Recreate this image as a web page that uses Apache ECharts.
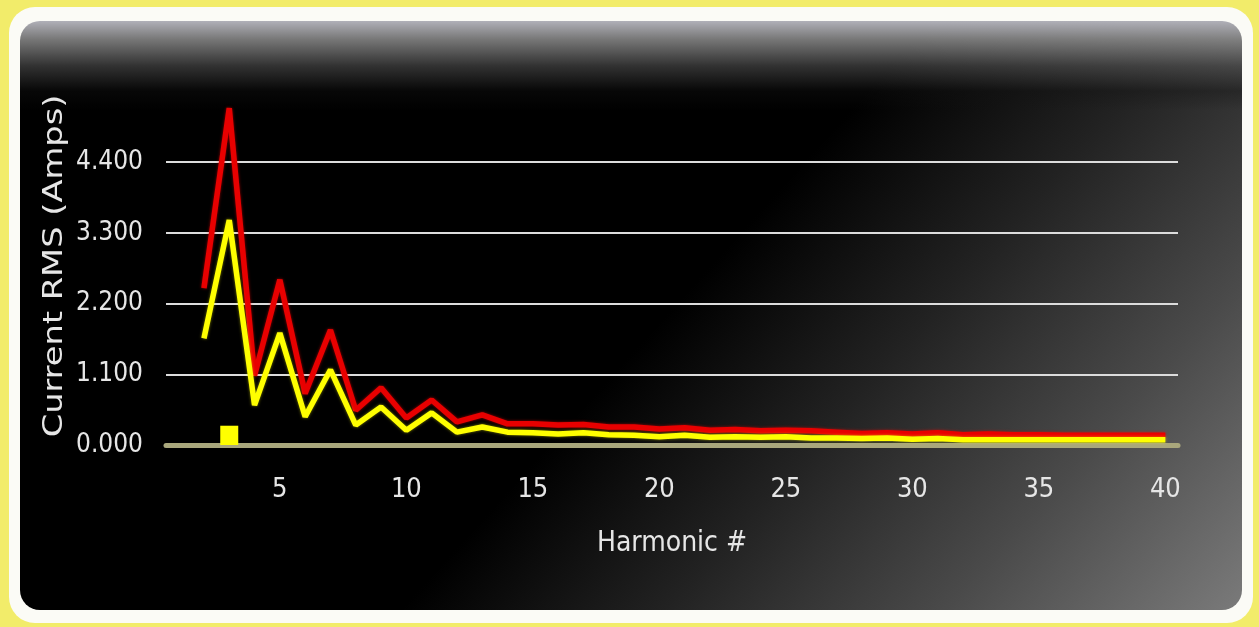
<!DOCTYPE html>
<html>
<head>
<meta charset="utf-8">
<script src="https://cdn.jsdelivr.net/npm/echarts@6/dist/echarts.min.js"></script>
<style>
html,body{margin:0;padding:0;width:1259px;height:627px;overflow:hidden;background:#f2ec6a;}
#frame{position:absolute;left:9px;top:7px;width:1244px;height:616px;border-radius:26px;background:#fbfbf6;}
#panel{position:absolute;left:20px;top:21px;width:1222px;height:589px;border-radius:20px;
 background:
  linear-gradient(to bottom, rgba(176,176,184,1) 0px, rgba(150,150,150,0.8) 18px, rgba(90,90,90,0.55) 45px, rgba(20,20,20,0.35) 70px, rgba(0,0,0,0) 90px),
  linear-gradient(132deg, #000 0%, #000 52%, #222 67%, #4a4a4a 83%, #7a7a7a 100%);}
#chart{position:absolute;left:0;top:0;width:1259px;height:627px;}
</style>
</head>
<body>
<div id="frame"></div>
<div id="panel"></div>
<div id="chart"></div>
<script>
var harmonics = ['1','2','3','4','5','6','7','8','9','10','11','12','13','14','15','16','17','18','19','20',
  '21','22','23','24','25','26','27','28','29','30','31','32','33','34','35','36','37','38','39','40'];
var redValues = [null, 2.44, 5.24, 1.08, 2.57, 0.80, 1.79, 0.54, 0.89, 0.42, 0.70, 0.36, 0.47, 0.33, 0.33,
  0.31, 0.32, 0.28, 0.28, 0.25, 0.27, 0.23, 0.24, 0.22, 0.23, 0.22, 0.20, 0.18, 0.19, 0.17,
  0.19, 0.16, 0.17, 0.16, 0.16, 0.15, 0.15, 0.15, 0.15, 0.15];
var yellowValues = [null, 1.66, 3.50, 0.62, 1.74, 0.44, 1.17, 0.31, 0.59, 0.23, 0.50, 0.20, 0.28, 0.20, 0.19,
  0.17, 0.19, 0.16, 0.15, 0.13, 0.15, 0.12, 0.13, 0.12, 0.13, 0.11, 0.11, 0.10, 0.11, 0.09,
  0.10, 0.08, 0.08, 0.08, 0.08, 0.08, 0.08, 0.08, 0.08, 0.08];
var barValues = [null, null, 0.30, null, null, null, null, null, null, null, null, null, null, null, null,
  null, null, null, null, null, null, null, null, null, null, null, null, null, null, null,
  null, null, null, null, null, null, null, null, null, null];
var yTicks = [0, 1.1, 2.2, 3.3, 4.4];
var yMax = 5.5;
var xAxisName = 'Harmonic #';
var yAxisName = 'Current RMS (Amps)';

var FONT = '"Liberation Sans Narrow", "DejaVu Sans Condensed", "Liberation Sans", sans-serif';
var chart = echarts.init(document.getElementById('chart'), null, {renderer: 'canvas'});
chart.setOption({
  backgroundColor: 'transparent',
  animation: false,
  grid: {left: 166, right: 81, top: 91.5, bottom: 182},
  graphic: [{
    type: 'text', x: 55, y: 266, rotation: Math.PI / 2, scaleX: 1.44,
    style: {text: yAxisName, fill: '#e6e6e6', font: '26px "DejaVu Sans Condensed", "Liberation Sans", sans-serif',
      textAlign: 'center', textVerticalAlign: 'middle'}
  }],
  xAxis: {
    type: 'category', data: harmonics, boundaryGap: true,
    name: xAxisName, nameLocation: 'middle', nameGap: 85,
    nameTextStyle: {color: '#e6e6e6', fontSize: 28, fontFamily: FONT},
    axisLine: {show: true, lineStyle: {color: '#a9a77c', width: 5}},
    axisTick: {show: false},
    axisLabel: {color: '#e6e6e6', fontSize: 27, fontFamily: FONT, margin: 31,
      interval: function (i, v) { return Number(v) % 5 === 0; }},
    splitLine: {show: false}
  },
  yAxis: {
    type: 'value', min: 0, max: yMax, interval: 1.1,
    axisLine: {show: false}, axisTick: {show: false},
    axisLabel: {color: '#e6e6e6', fontSize: 26, fontFamily: FONT, margin: 23,
      formatter: function (v) { return yTicks.some(function (t) { return Math.abs(t - v) < 1e-6; }) ? v.toFixed(3) : ''; }},
    splitLine: {show: true, lineStyle: {color: ['transparent', '#dcdcdc', '#dcdcdc', '#dcdcdc', '#dcdcdc', 'transparent'], width: 2}}
  },
  series: [
    {type: 'bar', data: barValues, barWidth: 18, itemStyle: {color: '#ffff00'}, z: 3},
    {type: 'line', data: redValues, showSymbol: false, symbol: 'none',
      lineStyle: {color: '#e80000', width: 5.5, shadowColor: 'rgba(255,0,0,0.6)', shadowBlur: 3}, z: 4},
    {type: 'line', data: yellowValues, showSymbol: false, symbol: 'none',
      lineStyle: {color: '#ffff00', width: 5.5, shadowColor: 'rgba(255,255,0,0.5)', shadowBlur: 3}, z: 5}
  ]
});
</script>
</body>
</html>
